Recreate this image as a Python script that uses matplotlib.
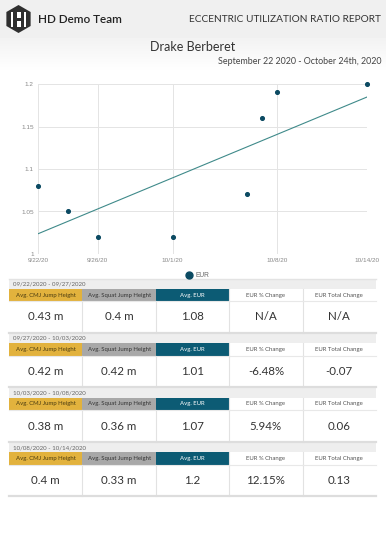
import matplotlib
matplotlib.use("Agg")
import matplotlib.pyplot as plt
import matplotlib.dates as mdates
from matplotlib.patches import Rectangle, RegularPolygon
from matplotlib.lines import Line2D
from matplotlib.colors import LinearSegmentedColormap
import numpy as np
import datetime as dt

plt.rcParams['font.family'] = ['Lato', 'DejaVu Sans']

# chart data
dates = ["2020-09-22", "2020-09-24", "2020-09-26", "2020-10-01",
         "2020-10-06", "2020-10-07", "2020-10-08", "2020-10-14"]
eur = [1.08, 1.05, 1.02, 1.02, 1.07, 1.16, 1.19, 1.2]
xtick_dates = ["2020-09-22", "2020-09-26", "2020-10-01", "2020-10-08", "2020-10-14"]
xtick_labels = ["9/22/20", "9/26/20", "10/1/20", "10/8/20", "10/14/20"]
ytick_vals = [1.0, 1.05, 1.1, 1.15, 1.2]
ytick_labels = ["1", "1.05", "1.1", "1.15", "1.2"]

# table data
periods = ["09/22/2020 - 09/27/2020", "09/27/2020 - 10/03/2020",
           "10/03/2020 - 10/08/2020", "10/08/2020 - 10/14/2020"]
headers = ["Avg. CMJ Jump Height", "Avg. Squat Jump Height", "Avg. EUR",
           "EUR % Change", "EUR Total Change"]
cmj = ["0.43 m", "0.42 m", "0.38 m", "0.4 m"]
squat = ["0.4 m", "0.42 m", "0.36 m", "0.33 m"]
avg_eur = ["1.08", "1.01", "1.07", "1.2"]
pct_change = ["N/A", "-6.48%", "5.94%", "12.15%"]
total_change = ["N/A", "-0.07", "0.06", "0.13"]

W, H = 386, 545
fig = plt.figure(figsize=(W / 100, H / 100), dpi=100)
fig.patch.set_facecolor("white")

# overlay in pixel coords
ov = fig.add_axes([0, 0, 1, 1])
ov.axis("off")

# header band
ov.add_patch(Rectangle((0, 0), W, 38, color="#f0f0f0", lw=0))
grad = np.linspace(0, 1, 50).reshape(-1, 1)
ov.imshow(grad, extent=(0, W, 70, 38), aspect="auto", zorder=0,
          cmap=LinearSegmentedColormap.from_list("g", ["#f3f3f3", "#ffffff"]))
ov.set_xlim(0, W)
ov.set_ylim(H, 0)

# logo
dark = "#2f2f2f"
ov.add_patch(RegularPolygon((18.5, 19), 6, radius=14, orientation=0, color=dark, lw=0))
ov.add_patch(Rectangle((11, 11.5), 15, 15, color="white", lw=0))
ov.add_patch(Rectangle((13, 11.5), 3.5, 15, color=dark, lw=0))
ov.add_patch(Rectangle((20.5, 11.5), 3.5, 15, color=dark, lw=0))
ov.add_patch(Rectangle((16.5, 17.5), 4, 3, color=dark, lw=0))
ov.add_patch(Rectangle((16.5, 11.5), 4, 4, color="white", lw=0))

ov.text(38, 19.5, "HD Demo Team", fontsize=8.5, color="#222222", va="center", ha="left",
        fontweight="semibold")
ov.text(381, 20, "ECCENTRIC UTILIZATION RATIO REPORT", fontsize=7.3, color="#333333",
        va="center", ha="right")
ov.text(193, 47, "Drake Berberet", fontsize=9, color="#333333", va="center", ha="center")
ov.text(382, 62, "September 22 2020 - October 24th, 2020", fontsize=6.4, color="#444444",
        va="center", ha="right")

# chart
ax = fig.add_axes([38 / W, (H - 254) / H, 329 / W, 170 / H])
xd = [dt.datetime.strptime(d, "%Y-%m-%d") for d in dates]
xn = mdates.date2num(xd)
ax.scatter(xd, eur, s=7, color="#0b4a62", zorder=3, label="EUR", clip_on=False)
k, b = np.polyfit(xn, eur, 1)
xl = np.array([xn[0], xn[-1]])
ax.plot(mdates.num2date(xl), k * xl + b, color="#3f8a8a", lw=0.8, zorder=2)
xt = [dt.datetime.strptime(d, "%Y-%m-%d") for d in xtick_dates]
ax.set_xticks(xt)
ax.set_xticklabels(xtick_labels)
ax.set_yticks(ytick_vals)
ax.set_yticklabels(ytick_labels)
ax.set_xlim(xd[0], xd[-1])
ax.set_ylim(1.0, 1.2)
ax.grid(True, color="#e4e4e4", lw=0.7)
ax.set_axisbelow(True)
for s in ax.spines.values():
    s.set_visible(False)
ax.tick_params(length=0, labelsize=4.6, colors="#888888", pad=3)
for lab in ax.get_xticklabels() + ax.get_yticklabels():
    lab.set_family("Liberation Sans")
ax.legend(handles=[Line2D([], [], marker="o", ls="", color="#0b4a62", markersize=5)],
          labels=["EUR"], loc="upper center", bbox_to_anchor=(0.48, -0.07), frameon=False,
          prop={"family": "Liberation Sans", "size": 4.8}, handletextpad=0.1,
          labelcolor="#666666")

ov.plot([9, 376], [279, 279], color="#e3e3e3", lw=1)

# tables
x0, x1 = 9, 376
cw = (x1 - x0) / 5
fills = ["#e2b23d", "#a8a8a8", "#0c5b74", "white", "white"]
tcol = ["#4a3b10", "#333333", "white", "#555555", "#555555"]
rows = list(zip(cmj, squat, avg_eur, pct_change, total_change))
for i, period in enumerate(periods):
    y0 = 279 + i * 54.5
    ov.add_patch(Rectangle((x0, y0), x1 - x0, 9.5, color="#eeeeee", lw=0))
    ov.text(x0 + 4, y0 + 5, period, fontsize=4.4, color="#666666", va="center", ha="left")
    hy = y0 + 9.5
    for j, h in enumerate(headers):
        ov.add_patch(Rectangle((x0 + j * cw, hy), cw, 12.5, color=fills[j], lw=0))
        ov.text(x0 + (j + 0.5) * cw, hy + 6.5, h, fontsize=4.3, color=tcol[j],
                va="center", ha="center")
    vy = hy + 12.5
    for j, v in enumerate(rows[i]):
        ov.text(x0 + (j + 0.5) * cw, vy + 16, v, fontsize=8.3, color="#333333",
                va="center", ha="center")
        if j > 0:
            ov.plot([x0 + j * cw, x0 + j * cw], [hy + 12.5, vy + 31.5], color="#e2e2e2", lw=0.8)
        if j > 2:
            ov.plot([x0 + j * cw, x0 + j * cw], [hy, hy + 12.5], color="#e2e2e2", lw=0.8)
    ov.plot([x0, x1], [hy + 12.5, hy + 12.5], color="#e8e8e8", lw=0.8)
    ov.plot([x0, x1], [vy + 31.5, vy + 31.5], color="#dddddd", lw=1.6)

fig.savefig("out.png", dpi=100, facecolor="white")
